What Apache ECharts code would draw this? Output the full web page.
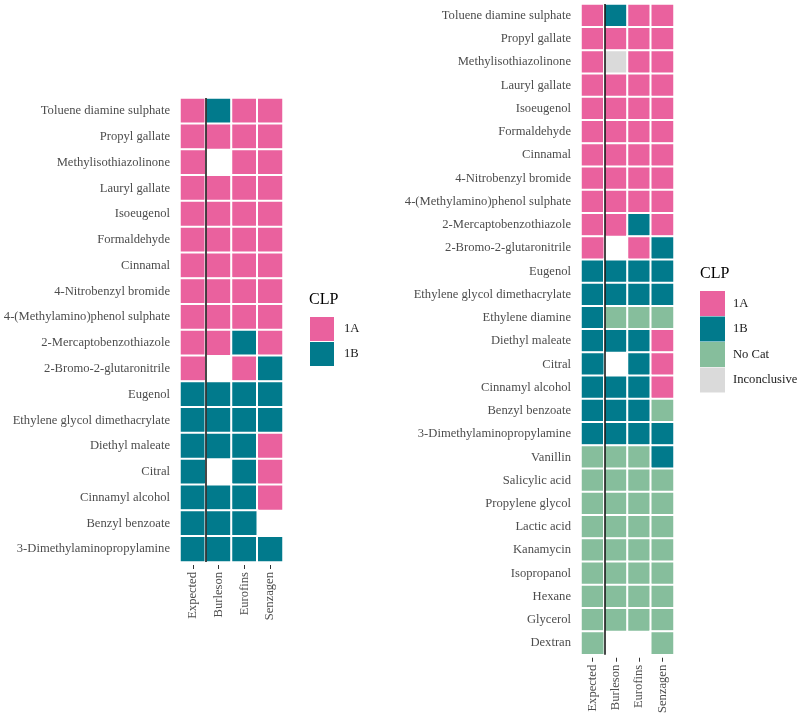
<!DOCTYPE html>
<html>
<head>
<meta charset="utf-8">
<script src="https://cdn.jsdelivr.net/npm/echarts@6/dist/echarts.min.js"></script>
<style>html,body{margin:0;padding:0;background:#fff}#c{width:800px;height:716px}</style>
</head>
<body>
<div id="c"></div>
<script>
const labs = ['Expected', 'Burleson', 'Eurofins', 'Senzagen'];
const clpCats = ['1A', '1B', 'No Cat', 'Inconclusive'];
const clpColors = ['#EA619E', '#017A8C', '#86BE9C', '#DADADA'];
// position of the separator between "Expected" and the three labs (category index units)
const separatorAt = 0.5;

const leftChemicals = [
  'Toluene diamine sulphate', 'Propyl gallate', 'Methylisothiazolinone', 'Lauryl gallate',
  'Isoeugenol', 'Formaldehyde', 'Cinnamal', '4-Nitrobenzyl bromide',
  '4-(Methylamino)phenol sulphate', '2-Mercaptobenzothiazole', '2-Bromo-2-glutaronitrile',
  'Eugenol', 'Ethylene glycol dimethacrylate', 'Diethyl maleate', 'Citral',
  'Cinnamyl alcohol', 'Benzyl benzoate', '3-Dimethylaminopropylamine'
];
const leftValues = [
  ['1A', '1B', '1A', '1A'],
  ['1A', '1A', '1A', '1A'],
  ['1A', null, '1A', '1A'],
  ['1A', '1A', '1A', '1A'],
  ['1A', '1A', '1A', '1A'],
  ['1A', '1A', '1A', '1A'],
  ['1A', '1A', '1A', '1A'],
  ['1A', '1A', '1A', '1A'],
  ['1A', '1A', '1A', '1A'],
  ['1A', '1A', '1B', '1A'],
  ['1A', null, '1A', '1B'],
  ['1B', '1B', '1B', '1B'],
  ['1B', '1B', '1B', '1B'],
  ['1B', '1B', '1B', '1A'],
  ['1B', null, '1B', '1A'],
  ['1B', '1B', '1B', '1A'],
  ['1B', '1B', '1B', null],
  ['1B', '1B', '1B', '1B']
];

const rightChemicals = [
  'Toluene diamine sulphate', 'Propyl gallate', 'Methylisothiazolinone', 'Lauryl gallate',
  'Isoeugenol', 'Formaldehyde', 'Cinnamal', '4-Nitrobenzyl bromide',
  '4-(Methylamino)phenol sulphate', '2-Mercaptobenzothiazole', '2-Bromo-2-glutaronitrile',
  'Eugenol', 'Ethylene glycol dimethacrylate', 'Ethylene diamine', 'Diethyl maleate', 'Citral',
  'Cinnamyl alcohol', 'Benzyl benzoate', '3-Dimethylaminopropylamine', 'Vanillin',
  'Salicylic acid', 'Propylene glycol', 'Lactic acid', 'Kanamycin', 'Isopropanol',
  'Hexane', 'Glycerol', 'Dextran'
];
const rightValues = [
  ['1A', '1B', '1A', '1A'],
  ['1A', '1A', '1A', '1A'],
  ['1A', 'Inconclusive', '1A', '1A'],
  ['1A', '1A', '1A', '1A'],
  ['1A', '1A', '1A', '1A'],
  ['1A', '1A', '1A', '1A'],
  ['1A', '1A', '1A', '1A'],
  ['1A', '1A', '1A', '1A'],
  ['1A', '1A', '1A', '1A'],
  ['1A', '1A', '1B', '1A'],
  ['1A', null, '1A', '1B'],
  ['1B', '1B', '1B', '1B'],
  ['1B', '1B', '1B', '1B'],
  ['1B', 'No Cat', 'No Cat', 'No Cat'],
  ['1B', '1B', '1B', '1A'],
  ['1B', null, '1B', '1A'],
  ['1B', '1B', '1B', '1A'],
  ['1B', '1B', '1B', 'No Cat'],
  ['1B', '1B', '1B', '1B'],
  ['No Cat', 'No Cat', 'No Cat', '1B'],
  ['No Cat', 'No Cat', 'No Cat', 'No Cat'],
  ['No Cat', 'No Cat', 'No Cat', 'No Cat'],
  ['No Cat', 'No Cat', 'No Cat', 'No Cat'],
  ['No Cat', 'No Cat', 'No Cat', 'No Cat'],
  ['No Cat', 'No Cat', 'No Cat', 'No Cat'],
  ['No Cat', 'No Cat', 'No Cat', 'No Cat'],
  ['No Cat', 'No Cat', 'No Cat', 'No Cat'],
  ['No Cat', null, null, 'No Cat']
];

function toData(values) {
  const out = [];
  values.forEach((row, r) => row.forEach((v, c) => {
    if (v !== null) out.push([c, r, clpCats.indexOf(v)]);
  }));
  return out;
}

const FONT = 'Liberation Serif';
const axisTextColor = '#4d4d4d';
const AX_FS = 12.6;

function xAxisCfg(gi) {
  return {
    type: 'category', gridIndex: gi, data: labs, position: 'bottom', offset: 3,
    axisLine: { show: false },
    axisTick: { show: true, length: 4, lineStyle: { color: '#333', width: 1 }, alignWithLabel: true },
    axisLabel: { rotate: 90, margin: 7, color: axisTextColor, fontFamily: FONT, fontSize: AX_FS },
    splitLine: { show: false }
  };
}
function xValueAxisCfg(gi) {
  return {
    type: 'value', gridIndex: gi, min: -0.5, max: labs.length - 0.5, show: false,
    splitLine: { show: false }
  };
}
function yAxisCfg(gi, data) {
  return {
    type: 'category', gridIndex: gi, data: data, inverse: true, offset: 3,
    axisLine: { show: false },
    axisTick: { show: true, length: 4, lineStyle: { color: '#333', width: 1 }, alignWithLabel: true },
    axisLabel: { margin: 7, color: axisTextColor, fontFamily: FONT, fontSize: AX_FS },
    splitLine: { show: false }
  };
}

function pieces(n) {
  return clpCats.slice(0, n).map((c, i) => ({ value: i, label: c, color: clpColors[i] }));
}

function sepSeries(xi, yi) {
  return {
    type: 'line', xAxisIndex: xi, yAxisIndex: yi, data: [], silent: true, z: 10,
    markLine: {
      silent: true, symbol: 'none', animation: false,
      label: { show: false },
      lineStyle: { color: '#1a1a1a', width: 1.6, type: 'solid' },
      emphasis: { disabled: true },
      data: [{ xAxis: separatorAt }]
    }
  };
}

const option = {
  animation: false,
  backgroundColor: '#fff',
  title: [
    { text: 'CLP', left: 309, top: 292, padding: 0, textStyle: { fontFamily: FONT, fontSize: 16, fontWeight: 'normal', color: '#000' } },
    { text: 'CLP', left: 700, top: 266, padding: 0, textStyle: { fontFamily: FONT, fontSize: 16, fontWeight: 'normal', color: '#000' } }
  ],
  grid: [
    { left: 180, top: 98, width: 103, height: 464 },
    { left: 581, top: 4, width: 93, height: 651 }
  ],
  xAxis: [xAxisCfg(0), xAxisCfg(1), xValueAxisCfg(0), xValueAxisCfg(1)],
  yAxis: [yAxisCfg(0, leftChemicals), yAxisCfg(1, rightChemicals)],
  visualMap: [
    {
      type: 'piecewise', seriesIndex: 0, dimension: 2, orient: 'vertical', inverse: true,
      left: 310, top: 317, padding: 0, itemWidth: 24, itemHeight: 24, itemGap: 1,
      itemSymbol: 'rect', align: 'left', textGap: 10, selectedMode: false,
      pieces: pieces(2),
      textStyle: { fontFamily: FONT, fontSize: AX_FS, color: '#1a1a1a' }
    },
    {
      type: 'piecewise', seriesIndex: 1, dimension: 2, orient: 'vertical', inverse: true,
      left: 700, top: 291, padding: 0, itemWidth: 25, itemHeight: 25, itemGap: 0.5,
      itemSymbol: 'rect', align: 'left', textGap: 8, selectedMode: false,
      pieces: pieces(4),
      textStyle: { fontFamily: FONT, fontSize: AX_FS, color: '#1a1a1a' }
    }
  ],
  series: [
    {
      type: 'heatmap', xAxisIndex: 0, yAxisIndex: 0, data: toData(leftValues),
      itemStyle: { borderColor: '#fff', borderWidth: 2 }
    },
    {
      type: 'heatmap', xAxisIndex: 1, yAxisIndex: 1, data: toData(rightValues),
      itemStyle: { borderColor: '#fff', borderWidth: 2 }
    },
    sepSeries(2, 0),
    sepSeries(3, 1)
  ]
};

const chart = echarts.init(document.getElementById('c'), null, { renderer: 'canvas' });
chart.setOption(option);
</script>
</body>
</html>
